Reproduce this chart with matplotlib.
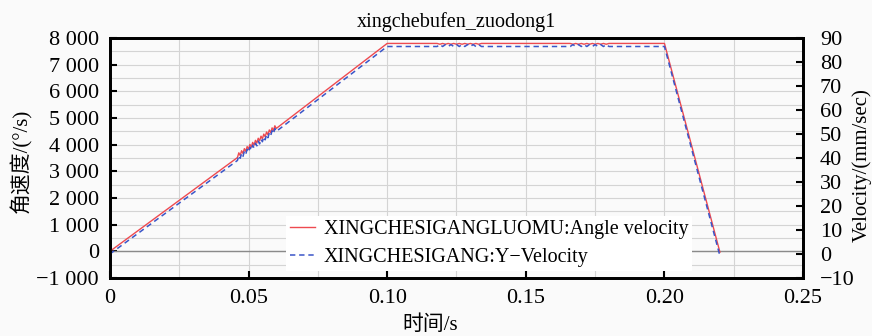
import matplotlib
matplotlib.use('Agg')
import matplotlib.pyplot as plt
from matplotlib.ticker import FuncFormatter, MultipleLocator

plt.rcParams['font.family'] = ['Liberation Serif', 'Noto Sans CJK SC']
plt.rcParams['axes.unicode_minus'] = True

# Angle velocity (deg/s) of XINGCHESIGANGLUOMU
red_t = [0.0,
         0.0460, 0.0465, 0.0470, 0.0475, 0.0480, 0.0485, 0.0490, 0.0495, 0.0500, 0.0505,
         0.0510, 0.0515, 0.0520, 0.0525, 0.0530, 0.0535, 0.0540, 0.0545, 0.0550, 0.0555,
         0.0560, 0.0565, 0.0570, 0.0575, 0.0580, 0.0585, 0.0590, 0.0595, 0.0600,
         0.100,
         0.118, 0.119, 0.120, 0.121, 0.122, 0.123, 0.124, 0.125, 0.126, 0.127, 0.128,
         0.129, 0.130, 0.131, 0.132, 0.133, 0.134, 0.135,
         0.166, 0.167, 0.168, 0.169, 0.170, 0.171, 0.172, 0.173, 0.174, 0.175, 0.176,
         0.177, 0.178, 0.179, 0.180, 0.181,
         0.200, 0.220]
red_v = [0,
         3518, 3697, 3596, 3775, 3674, 3853, 3752, 3931, 3830, 4009,
         3908, 4087, 3986, 4165, 4064, 4243, 4142, 4321, 4220, 4399,
         4298, 4477, 4376, 4555, 4454, 4633, 4532, 4711, 4610,
         7800,
         7800, 7770, 7800, 7770, 7800, 7770, 7800, 7770, 7800, 7770, 7800,
         7770, 7800, 7770, 7800, 7770, 7800, 7800,
         7800, 7770, 7800, 7770, 7800, 7770, 7800, 7770, 7800, 7770, 7800,
         7770, 7800, 7770, 7800, 7800,
         7800, -30]

# Y-velocity (mm/s) of XINGCHESIGANG
blue_t = [0.0,
          0.0460, 0.0465, 0.0470, 0.0475, 0.0480, 0.0485, 0.0490, 0.0495, 0.0500, 0.0505,
          0.0510, 0.0515, 0.0520, 0.0525, 0.0530, 0.0535, 0.0540, 0.0545, 0.0550, 0.0555,
          0.0560, 0.0565, 0.0570, 0.0575, 0.0580, 0.0585, 0.0590, 0.0595, 0.0600,
          0.100,
          0.118, 0.119, 0.120, 0.121, 0.122, 0.123, 0.124, 0.125, 0.126, 0.127, 0.128,
          0.129, 0.130, 0.131, 0.132, 0.133, 0.134, 0.135,
          0.166, 0.167, 0.168, 0.169, 0.170, 0.171, 0.172, 0.173, 0.174, 0.175, 0.176,
          0.177, 0.178, 0.179, 0.180, 0.181,
          0.200, 0.220]
blue_v = [0.0,
          39.0, 41.0, 39.9, 41.9, 40.7, 42.8, 41.6, 43.6, 42.5, 44.5,
          43.3, 45.4, 44.2, 46.2, 45.1, 47.1, 45.9, 47.9, 46.8, 48.8,
          47.6, 49.7, 48.5, 50.5, 49.4, 51.4, 50.2, 52.3, 51.1,
          86.5,
          86.5, 87.3, 86.5, 87.3, 86.5, 87.3, 86.5, 87.3, 86.5, 87.3, 86.5,
          87.3, 86.5, 87.3, 86.5, 87.3, 86.5, 86.5,
          86.5, 87.3, 86.5, 87.3, 86.5, 87.3, 86.5, 87.3, 86.5, 87.3, 86.5,
          87.3, 86.5, 87.3, 86.5, 86.5,
          86.5, -0.8]

x_ticks = [0, 0.05, 0.10, 0.15, 0.20, 0.25]
x_labels = ['0', '0.05', '0.10', '0.15', '0.20', '0.25']
left_ticks = [-1000, 0, 1000, 2000, 3000, 4000, 5000, 6000, 7000, 8000]
right_ticks = [-10, 0, 10, 20, 30, 40, 50, 60, 70, 80, 90]

fig = plt.figure(figsize=(8.72, 3.36), dpi=100, facecolor='#fafafa')
ax1 = fig.add_axes([0.126, 0.1726, 0.795, 0.714])
ax1.set_facecolor('#fafafa')

ax1.set_xlim(0, 0.25)
ax1.set_ylim(-1000, 8000)
ax1.set_xticks(x_ticks)
ax1.set_xticklabels(x_labels)
ax1.set_yticks(left_ticks)
ax1.yaxis.set_major_formatter(FuncFormatter(
    lambda v, p: ('\u2212' if v < 0 else '') + format(int(abs(v)), ',').replace(',', ' ')))
ax1.xaxis.set_minor_locator(MultipleLocator(0.025))
ax1.yaxis.set_minor_locator(MultipleLocator(500))
ax1.grid(which='both', color='#d4d4d4', linewidth=0.8)
ax1.set_axisbelow(True)
ax1.axhline(0, color='#8a8a8a', linewidth=1.0, zorder=1)

ax1.tick_params(axis='both', which='major', direction='in', length=5, width=1.5,
                labelsize=16, top=False, right=False)
ax1.tick_params(axis='x', which='major', pad=8)
ax1.tick_params(axis='y', which='major', pad=8)
ax1.tick_params(axis='both', which='minor', length=0)
for s in ax1.spines.values():
    s.set_linewidth(2)

l1, = ax1.plot(red_t, red_v, color='#ee4a50', linewidth=1.0,
               label='XINGCHESIGANGLUOMU:Angle velocity', zorder=3)

ax2 = ax1.twinx()
ax2.set_ylim(-10, 90)
ax2.set_yticks(right_ticks)
ax2.yaxis.set_major_formatter(FuncFormatter(
    lambda v, p: ('\u2212' if v < 0 else '') + str(int(abs(v)))))
ax2.tick_params(axis='y', direction='in', length=5, width=1.5, labelsize=16, pad=12)
l2, = ax2.plot(blue_t, blue_v, color='#3a55c8', linewidth=1.1, linestyle=(0, (3.5, 2.5)),
               label='XINGCHESIGANG:Y\u2212Velocity', zorder=2)
for s in ax2.spines.values():
    s.set_linewidth(2)

leg = ax2.legend(handles=[l1, l2], loc='lower left', bbox_to_anchor=(0.24, -0.012),
                 fontsize=14.5, frameon=True, fancybox=False, framealpha=1,
                 handlelength=1.2, handletextpad=0.45, borderpad=0.2, labelspacing=0.45)
leg.get_frame().set_facecolor('white')
leg.get_frame().set_linewidth(0)

ax1.set_title('xingchebufen_zuodong1', fontsize=14.5, pad=8)
fig.text(0.493, 0.004, '时间/s', fontsize=15, ha='center', va='bottom')
fig.text(0.012, 0.52, '角速度/(°/s)', fontsize=15, rotation=90, ha='left', va='center')
fig.text(0.977, 0.51, 'Velocity/(mm/sec)', rotation=90, fontsize=15,
         ha='left', va='center')

fig.savefig('out.png', dpi=100, facecolor=fig.get_facecolor())
